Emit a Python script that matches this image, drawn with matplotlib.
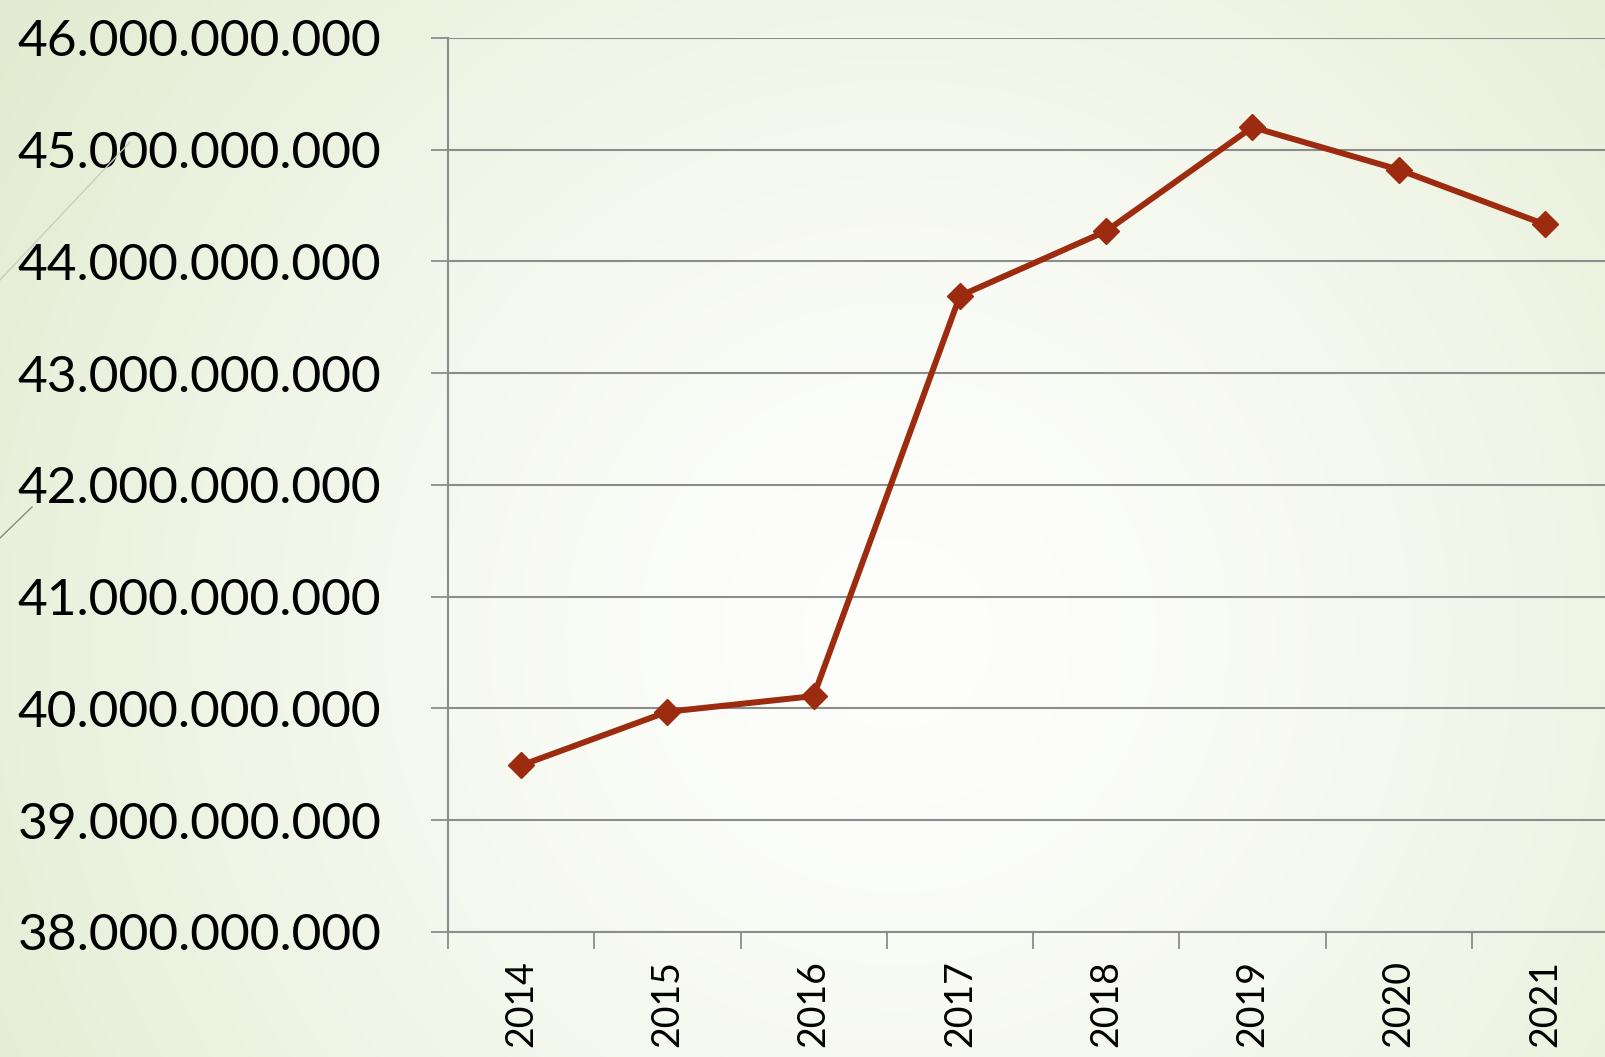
import numpy as np
import matplotlib.pyplot as plt
from matplotlib.ticker import FuncFormatter, FixedLocator
from matplotlib.lines import Line2D

jahre = ["2014", "2015", "2016", "2017", "2018", "2019", "2020", "2021"]
werte = [39.49e9, 39.97e9, 40.11e9, 43.69e9, 44.27e9, 45.20e9, 44.82e9, 44.33e9]

plt.rcParams["font.family"] = ["Lato", "DejaVu Sans"]

fig = plt.figure(figsize=(16.05, 10.57), dpi=100)

# hintergrund: radialer verlauf weiss -> hellgruen
bg = fig.add_axes([0, 0, 1, 1], zorder=-5)
yy, xx = np.mgrid[0:1:400j, 0:1.52:600j]
r = np.sqrt((xx - 0.85) ** 2 + (yy - 0.6) ** 2) / 1.0
r = np.clip(r, 0, 1)
innen = np.array([0.995, 0.997, 0.99])
aussen = np.array([0.89, 0.925, 0.82])
img = innen + (aussen - innen) * r[..., None] ** 1.5
bg.imshow(img, extent=[0, 1, 0, 1], aspect="auto", origin="upper")
bg.axis("off")

# deko-linien links
fig.add_artist(Line2D([0, 130 / 1605], [1 - 280 / 1057, 1 - 142 / 1057],
                      transform=fig.transFigure, color="#c9cdbd", lw=1))
fig.add_artist(Line2D([0, 32 / 1605], [1 - 538 / 1057, 1 - 507 / 1057],
                      transform=fig.transFigure, color="#8a8a7a", lw=1))

ax = fig.add_axes([448 / 1605, 0.1183, 1170 / 1605, 0.846])
ax.set_facecolor("none")

x = np.arange(len(jahre))
ax.plot(x, werte, "-D", color="#9c2b0f", lw=4.3, markersize=13, zorder=3)

ax.set_xlim(-0.5, len(jahre) - 0.5)
ax.set_ylim(38e9, 46e9)
ax.set_yticks(np.arange(38e9, 46.1e9, 1e9))
ax.yaxis.set_major_formatter(
    FuncFormatter(lambda v, p: f"{int(round(v)):,}".replace(",", ".")))
ax.grid(axis="y", color="#8c8c8c", lw=1.5)
ax.set_axisbelow(True)

ax.xaxis.set_major_locator(FixedLocator(np.arange(-0.5, len(jahre), 1)))
ax.set_xticklabels([])
ax.set_xticks(x, minor=True)
ax.set_xticklabels(jahre, minor=True, rotation=90, fontsize=27)
ax.tick_params(axis="x", which="minor", length=0, pad=20)
ax.tick_params(axis="x", which="major", length=12, width=1.3, color="#8c8c8c")
ax.tick_params(axis="y", length=12, width=1.3, color="#8c8c8c", labelsize=37, pad=36)

for s in ["top", "right"]:
    ax.spines[s].set_visible(False)
for s in ["left", "bottom"]:
    ax.spines[s].set_color("#8c8c8c")
    ax.spines[s].set_linewidth(1.5)

plt.savefig("out.png", dpi=100)
